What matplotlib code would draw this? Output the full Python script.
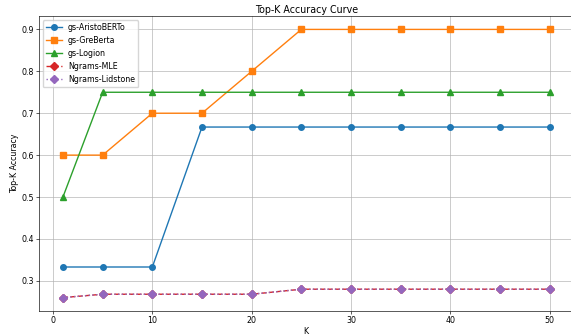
import numpy as np
from matplotlib import pyplot as plt

k_values = [1, 5, 10, 15, 20, 25, 30, 35, 40, 45, 50]

aristoberto = [0.333, 0.333, 0.333, 0.667, 0.667, 0.667, 0.667, 0.667, 0.667, 0.667, 0.667]
greberta = [0.6, 0.6, 0.7, 0.7, 0.8, 0.9, 0.9, 0.9, 0.9, 0.9, 0.9]
logion = [0.5, 0.75, 0.75, 0.75, 0.75, 0.75, 0.75, 0.75, 0.75, 0.75, 0.75]
ngrams_mle = [0.26, 0.268, 0.268, 0.268, 0.268, 0.28, 0.28, 0.28, 0.28, 0.28, 0.28]
ngrams_lidstone = [0.26, 0.268, 0.268, 0.268, 0.268, 0.28, 0.28, 0.28, 0.28, 0.28, 0.28]

# original looks like a 10x6 figure shrunk to ~57%
sc = 0.571
plt.rcParams['font.size'] = 10 * sc
plt.rcParams['axes.labelpad'] = 1.5

fig = plt.figure(figsize=(5.71, 3.36), dpi=100)
ax = fig.add_subplot(111)
fig.subplots_adjust(left=38.6 / 571, right=574 / 571, top=1 - 16 / 336, bottom=1 - 311 / 336)

lw = 1.0
ms = 4.0
ax.plot(k_values, aristoberto, 'o-', color='#1f77b4', label='gs-AristoBERTo', lw=lw, ms=ms)
ax.plot(k_values, greberta, 's-', color='#ff7f0e', label='gs-GreBerta', lw=lw, ms=ms)
ax.plot(k_values, logion, '^-', color='#2ca02c', label='gs-Logion', lw=lw, ms=ms)
ax.plot(k_values, ngrams_mle, 'D--', color='#d62728', label='Ngrams-MLE', lw=lw, ms=ms)
ax.plot(k_values, ngrams_lidstone, 'D:', color='#9467bd', label='Ngrams-Lidstone', lw=lw, ms=ms)

ax.set_title('Top-K Accuracy Curve', fontsize=12 * sc, pad=2.5)
ax.set_xlabel('K')
ax.set_ylabel('Top-K Accuracy')
ax.grid(True, lw=0.8 * sc)
ax.legend(loc='upper left')
for s in ax.spines.values():
    s.set_linewidth(0.8 * sc)
ax.tick_params(width=0.8 * sc, length=3.5 * sc, pad=1.5)

fig.savefig('out.png', dpi=100)
